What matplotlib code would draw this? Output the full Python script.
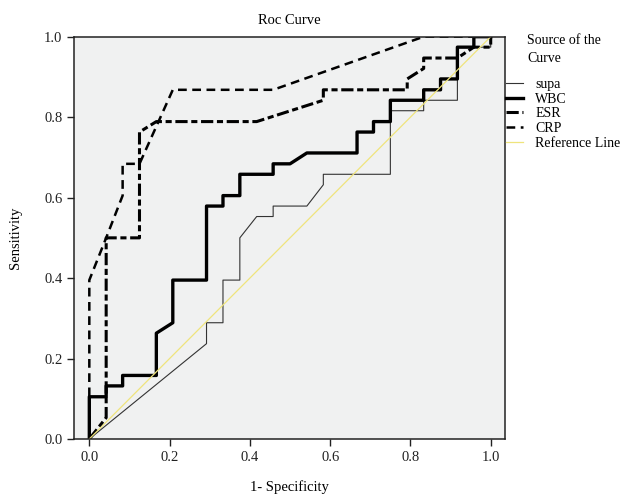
import matplotlib
matplotlib.use("Agg")
import matplotlib.pyplot as plt

# ROC points (1 - specificity, sensitivity)
supa_x = [0, 0.292, 0.292, 0.333, 0.333, 0.375, 0.375, 0.417, 0.458, 0.458, 0.542, 0.583, 0.583, 0.750, 0.750, 0.833, 0.833, 0.917, 0.917, 1.0, 1.0]
supa_y = [0, 0.237, 0.289, 0.289, 0.395, 0.395, 0.500, 0.553, 0.553, 0.579, 0.579, 0.632, 0.658, 0.658, 0.816, 0.816, 0.842, 0.842, 0.974, 0.974, 1.0]

wbc_x = [0, 0, 0.042, 0.042, 0.083, 0.083, 0.167, 0.167, 0.208, 0.208, 0.292, 0.292, 0.333, 0.333, 0.375, 0.375, 0.458, 0.458, 0.500, 0.542, 0.667, 0.667, 0.708, 0.708, 0.750, 0.750, 0.833, 0.833, 0.875, 0.875, 0.917, 0.917, 0.958, 0.958, 1.0]
wbc_y = [0, 0.105, 0.105, 0.132, 0.132, 0.158, 0.158, 0.263, 0.289, 0.395, 0.395, 0.579, 0.579, 0.605, 0.605, 0.658, 0.658, 0.684, 0.684, 0.711, 0.711, 0.763, 0.763, 0.789, 0.789, 0.842, 0.842, 0.868, 0.868, 0.895, 0.895, 0.974, 0.974, 1.0, 1.0]

esr_x = [0, 0.042, 0.042, 0.125, 0.125, 0.167, 0.417, 0.583, 0.583, 0.792, 0.792, 0.833, 0.833, 0.917, 0.958, 1.0, 1.0]
esr_y = [0, 0.053, 0.500, 0.500, 0.763, 0.789, 0.789, 0.842, 0.868, 0.868, 0.895, 0.921, 0.947, 0.947, 0.974, 0.974, 1.0]

crp_x = [0, 0, 0.042, 0.083, 0.083, 0.125, 0.208, 0.458, 0.833, 1.0]
crp_y = [0, 0.395, 0.500, 0.605, 0.684, 0.684, 0.868, 0.868, 1.0, 1.0]

ref_x = [0, 1]
ref_y = [0, 1]

ticks = [0.0, 0.2, 0.4, 0.6, 0.8, 1.0]
tick_labels = ["0.0", "0.2", "0.4", "0.6", "0.8", "1.0"]

plt.rcParams['font.family'] = ['Liberation Serif', 'DejaVu Serif']

fig = plt.figure(figsize=(6.27, 4.95), dpi=100)
ax = fig.add_axes([74.3 / 627, 56 / 495, (505 - 74.3) / 627, (439 - 36.7) / 495])
ax.set_facecolor('#f0f1f1')

ax.plot(supa_x, supa_y, color='#333333', lw=0.8, label='supa')
ax.plot(wbc_x, wbc_y, color='black', lw=2.4, label='WBC')
ax.plot(esr_x, esr_y, color='black', lw=2.2, dashes=(4, 1.2, 2, 1.2), label='ESR')
ax.plot(crp_x, crp_y, color='black', lw=1.8, dashes=(3.5, 2.2), label='CRP')
ax.plot(ref_x, ref_y, color='#efe47c', lw=0.9, label='Reference Line')

ax.set_xlim(-0.0374, 1.0356)
ax.set_ylim(0, 1.0)
ax.set_xticks(ticks)
ax.set_xticklabels(tick_labels)
ax.set_yticks(ticks)
ax.set_yticklabels(tick_labels)
ax.tick_params(labelsize=10.5, length=5, width=1, colors='#222222')
for s in ax.spines.values():
    s.set_color('#222222')
    s.set_linewidth(1.1)

ax.set_title('Roc Curve', fontsize=10.5, pad=9)
ax.set_xlabel('1- Specificity', fontsize=10.5, labelpad=12)
ax.set_ylabel('Sensitivity', fontsize=10.5, labelpad=16)

fig.text(527 / 627, 1 - 34 / 495, 'Source of the\nCurve', fontsize=10, va='top', ha='left', linespacing=1.45)
fig.legend(loc='upper left', bbox_to_anchor=(506 / 627, 1 - 78 / 495), frameon=False,
           fontsize=10, borderpad=0, borderaxespad=0, handlelength=1.2,
           handletextpad=0.9, labelspacing=0.12)

fig.savefig('out.png', dpi=100)
